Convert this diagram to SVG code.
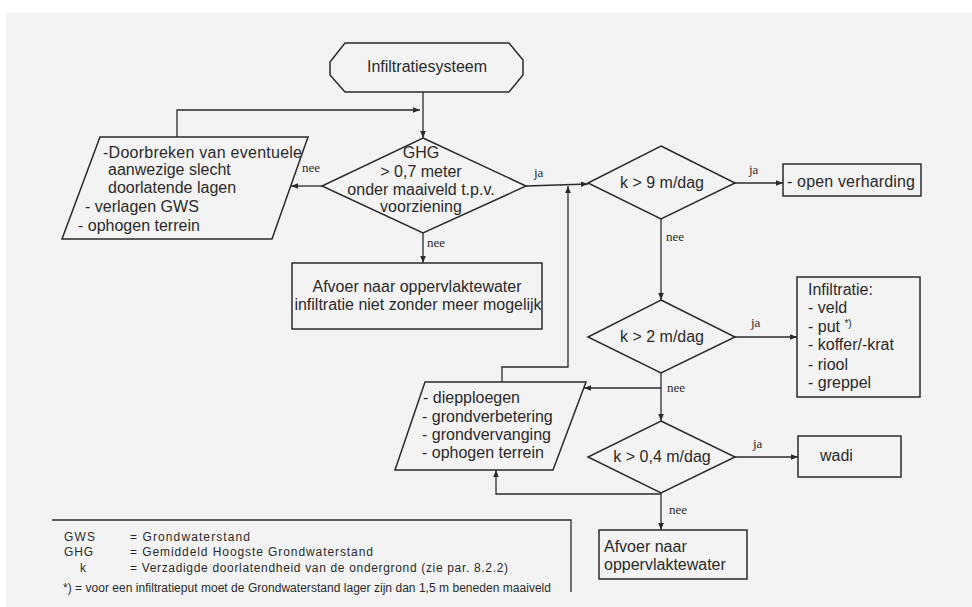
<svg xmlns="http://www.w3.org/2000/svg" width="972" height="607" viewBox="0 0 972 607">
<style>
.bg{fill:#f3f3f3}
.sh{fill:none;stroke:#2b2b2b;stroke-width:1.5}
.ln{fill:none;stroke:#2b2b2b;stroke-width:1.3}
.t{font-family:"Liberation Sans",Arial,sans-serif;font-size:16px;fill:#2a2a2a}
.c{text-anchor:middle}
.lb{font-family:"Liberation Serif","Times New Roman",serif;font-size:13px;fill:#2a2a2a}
.lg{font-family:"Liberation Sans",Arial,sans-serif;font-size:12px;fill:#2a2a2a}
</style>
<defs>
<marker id="ah" viewBox="0 0 10 10" refX="10" refY="5" markerWidth="7" markerHeight="7" markerUnits="userSpaceOnUse" orient="auto">
<path d="M0,1 L10,5 L0,9 Z" fill="#2b2b2b"/>
</marker>
</defs>
<rect width="972" height="607" fill="#ffffff"/>
<rect class="bg" x="6" y="13" width="966" height="594"/>

<g id="start">
<polygon class="sh" points="345,43 509,43 523,60 523,75 509,92 345,92 330,75 330,62"/>
<text class="t c" x="427" y="72">Infiltratiesysteem</text>
</g>

<g id="d1">
<polygon class="sh" points="423,138 526,186 423,233 322,186"/>
<text class="t c" x="421" y="158">GHG</text>
<text class="t c" x="421" y="177">&gt; 0,7 meter</text>
<text class="t c" x="421" y="195">onder maaiveld t.p.v.</text>
<text class="t c" x="421" y="212">voorziening</text>
</g>

<g id="p1">
<polygon class="sh" points="100,137 308,137 272,239 62,239"/>
<text class="t" x="103" y="158" textLength="199" lengthAdjust="spacing">-Doorbreken van eventuele</text>
<text class="t" x="108" y="175">aanwezige  slecht</text>
<text class="t" x="108" y="193">doorlatende  lagen</text>
<text class="t" x="85" y="212">- verlagen GWS</text>
<text class="t" x="78" y="231">- ophogen terrein</text>
</g>

<g id="r1">
<rect class="sh" x="292" y="263" width="250" height="66"/>
<text class="t c" x="417" y="292">Afvoer naar oppervlaktewater</text>
<text class="t c" x="418" y="310">infiltratie niet zonder meer mogelijk</text>
</g>

<g id="d2">
<polygon class="sh" points="661,146 735,183 661,219 588,183"/>
<text class="t c" x="662" y="188">k &gt; 9 m/dag</text>
</g>

<g id="r2">
<rect class="sh" x="783" y="164" width="138" height="32"/>
<text class="t" x="787" y="187" textLength="128" lengthAdjust="spacing">- open verharding</text>
</g>

<g id="d3">
<polygon class="sh" points="661,300 735,337 661,373 588,337"/>
<text class="t c" x="662" y="342">k &gt; 2 m/dag</text>
</g>

<g id="r3">
<rect class="sh" x="797" y="277" width="123" height="120"/>
<text class="t" x="808" y="295">Infiltratie:</text>
<text class="t" x="808" y="313">- veld</text>
<text class="t" x="808" y="332">- put <tspan font-size="10" dy="-5">*)</tspan></text>
<text class="t" x="808" y="350">- koffer/-krat</text>
<text class="t" x="808" y="370">- riool</text>
<text class="t" x="808" y="388">- greppel</text>
</g>

<g id="p2">
<polygon class="sh" points="425,382 586,382 553,470 395,470"/>
<text class="t" x="423" y="403">- diepploegen</text>
<text class="t" x="422" y="422">- grondverbetering</text>
<text class="t" x="422" y="440">- grondvervanging</text>
<text class="t" x="422" y="458">- ophogen terrein</text>
</g>

<g id="d4">
<polygon class="sh" points="661,421 735,457 661,493 588,457"/>
<text class="t c" x="662" y="462">k &gt; 0,4 m/dag</text>
</g>

<g id="r4">
<rect class="sh" x="798" y="436" width="103" height="41"/>
<text class="t" x="820" y="461">wadi</text>
</g>

<g id="r5">
<rect class="sh" x="599" y="530" width="148" height="49"/>
<text class="t" x="604" y="552">Afvoer naar</text>
<text class="t" x="604" y="570">oppervlaktewater</text>
</g>

<g id="connectors">
<path class="ln" d="M423,92 V138" marker-end="url(#ah)"/>
<path class="ln" d="M322,186 H291" marker-end="url(#ah)"/>
<path class="ln" d="M177,137 V110 H420" marker-end="url(#ah)"/>
<path class="ln" d="M423,233 V263" marker-end="url(#ah)"/>
<path class="ln" d="M526,186 L588,184" marker-end="url(#ah)"/>
<path class="ln" d="M735,183 H783" marker-end="url(#ah)"/>
<path class="ln" d="M661,219 V300" marker-end="url(#ah)"/>
<path class="ln" d="M735,337 H797" marker-end="url(#ah)"/>
<path class="ln" d="M661,373 V421" marker-end="url(#ah)"/>
<path class="ln" d="M661,388 H584" marker-end="url(#ah)"/>
<path class="ln" d="M502,382 V367 H568 V186" marker-end="url(#ah)"/>
<path class="ln" d="M735,457 H798" marker-end="url(#ah)"/>
<path class="ln" d="M661,493 V530" marker-end="url(#ah)"/>
<path class="ln" d="M661,494 H496 V470" marker-end="url(#ah)"/>
<text class="lb" x="302" y="172">nee</text>
<text class="lb" x="427" y="247">nee</text>
<text class="lb" x="534" y="177">ja</text>
<text class="lb" x="749" y="174">ja</text>
<text class="lb" x="666" y="241">nee</text>
<text class="lb" x="751" y="327">ja</text>
<text class="lb" x="667" y="392">nee</text>
<text class="lb" x="753" y="448">ja</text>
<text class="lb" x="669" y="514">nee</text>
</g>

<g id="legend">
<path class="ln" d="M52,520 H571 V592"/>
<text class="lg" x="64" y="541" textLength="31" lengthAdjust="spacing">GWS</text>
<text class="lg" x="130" y="541" textLength="120" lengthAdjust="spacing">= Grondwaterstand</text>
<text class="lg" x="64" y="556" textLength="29" lengthAdjust="spacing">GHG</text>
<text class="lg" x="130" y="556" textLength="243" lengthAdjust="spacing">= Gemiddeld  Hoogste Grondwaterstand</text>
<text class="lg" x="80" y="572">k</text>
<text class="lg" x="130" y="572" textLength="378" lengthAdjust="spacing">= Verzadigde doorlatendheid van de ondergrond (zie par. 8.2.2)</text>
<text class="lg" x="63" y="592" font-size="11" textLength="488" lengthAdjust="spacing">*) = voor een infiltratieput moet de  Grondwaterstand lager zijn dan 1,5 m beneden maaiveld</text>
</g>
</svg>
